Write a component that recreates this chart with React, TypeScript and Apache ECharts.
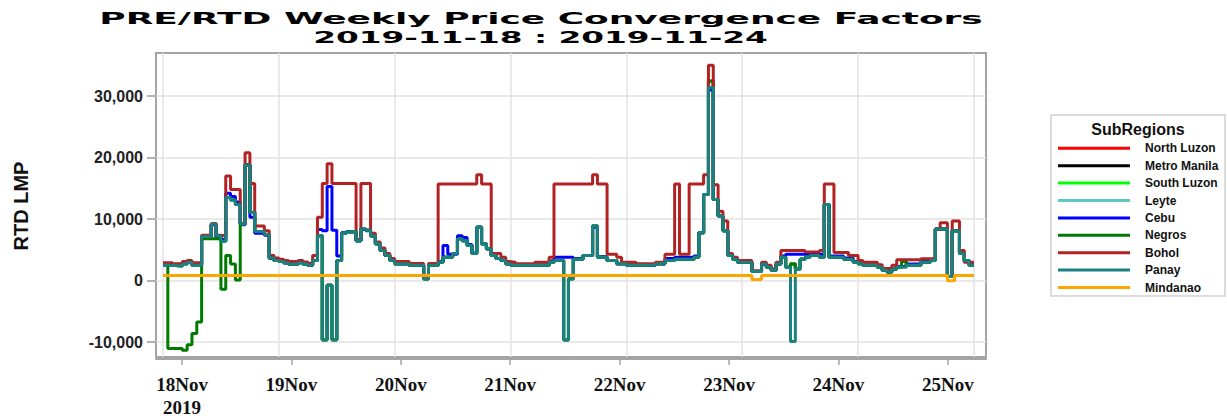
import React, { useEffect, useRef } from 'react';
import * as echarts from 'echarts';

// ---- labels / categories ----
const titleLine1 = 'PRE/RTD Weekly Price Convergence Factors';
const titleLine2 = '2019-11-18 : 2019-11-24';
const yAxisTitle = 'RTD LMP';
const legendTitle = 'SubRegions';
const seriesNames = ['North Luzon', 'Metro Manila', 'South Luzon', 'Leyte', 'Cebu', 'Negros', 'Bohol', 'Panay', 'Mindanao'];
const seriesColors = ['#ff0000', '#000000', '#00ff00', '#5cc8c8', '#0000ff', '#007a00', '#b22222', '#1b8080', '#ffa500'];
const dayTicks = [18, 19, 20, 21, 22, 23, 24, 25];
const yTicks = [-10000, 0, 10000, 20000, 30000];
const gridHours = [0, 24, 48, 72, 96, 120, 144, 168];

// ---- series values: [hour since 18 Nov 00:00, LMP] step change points ----
const panayLmp = [
  [0, 2500], [2, 2400], [4, 2700], [5, 2950], [6, 2500], [8, 7200], [10, 9200], [11, 7300], [12, 6400],
  [13, 13500], [14, 13100], [15, 12400], [16, 9200], [17, 18800], [18, 11100], [19, 8000], [21, 7500],
  [22, 3700], [23, 3300], [24, 3100], [25, 2900], [26, 2700], [28, 2900], [29, 2700], [30, 2500], [31, 3300],
  [32, 7300], [33, -9600], [34, -750], [35, -9600], [36, 3300], [37, 7700], [38, 7900], [39, 8000], [40, 6500],
  [41, 8400], [42, 8200], [43, 7300], [44, 6000], [45, 4900], [46, 4100], [47, 3300], [48, 2750], [51, 2500],
  [54, 300], [55, 2500], [57, 3000], [58, 3800], [60, 4400], [61, 6800], [62, 6500], [63, 5700], [64, 4400],
  [65, 8700], [66, 6000], [67, 5200], [68, 4100], [69, 3600], [70, 3300], [71, 2750], [72, 2500], [80, 3000],
  [81, 3300], [83, -9600], [84, 300], [85, 3500], [87, 4100], [89, 8900], [90, 3800], [92, 3300], [94, 2750],
  [96, 2500], [102, 2750], [104, 3300], [106, 3500], [110, 3800], [111, 7800], [112, 14000], [113, 31400],
  [114, 13200], [115, 10500], [116, 8100], [117, 4100], [118, 3500], [119, 3000], [122, 1500], [124, 2700],
  [125, 2200], [126, 1700], [127, 2700], [128, 3800], [129, 2200], [130, -9900], [131, 1900], [132, 3500],
  [133, 3800], [134, 4100], [136, 3800], [137, 12400], [138, 3800], [141, 3500], [143, 3000], [144, 2750],
  [145, 2500], [148, 2200], [149, 1700], [150, 1400], [151, 1900], [152, 2200], [154, 2500], [157, 3000],
  [159, 3300], [160, 8400], [162.5, 700], [163.5, 8100], [165, 4400], [166, 3300], [167, 2500], [168, 2500],
];

const luzonLmp = [
  [0, 2500], [2, 2400], [4, 2700], [5, 2950], [6, 2500], [8, 6900], [10, 9200], [11, 7000], [12, 6400],
  [13, 13500], [14, 13100], [15, 12400], [16, 9200], [17, 18800], [18, 11100], [19, 8000], [21, 7500],
  [22, 3700], [23, 3300], [24, 3100], [25, 2900], [26, 2700], [28, 2900], [29, 2700], [30, 2500], [31, 3300],
  [32, 7300], [33, -9600], [34, -750], [35, -9600], [36, 3300], [37, 7700], [38, 7900], [39, 8000], [40, 6500],
  [41, 8400], [42, 8200], [43, 7300], [44, 6000], [45, 4900], [46, 4100], [47, 3300], [48, 2750], [51, 2500],
  [54, 300], [55, 2500], [57, 3000], [58, 3800], [60, 4400], [61, 6800], [62, 6500], [63, 5700], [64, 4400],
  [65, 8700], [66, 6000], [67, 5200], [68, 4100], [69, 3600], [70, 3300], [71, 2750], [72, 2500], [80, 3000],
  [81, 3300], [83, -9600], [84, 300], [85, 3500], [87, 4100], [89, 8900], [90, 3800], [92, 3300], [94, 2750],
  [96, 2500], [102, 2750], [104, 3300], [106, 3500], [110, 3800], [111, 7800], [112, 14000], [113, 32400],
  [114, 13200], [115, 10500], [116, 8100], [117, 4100], [118, 3500], [119, 3000], [122, 1500], [124, 2700],
  [125, 2200], [126, 1700], [127, 2700], [128, 3800], [129, 2200], [130, 2700], [131, 1900], [132, 3500],
  [133, 3800], [134, 4100], [136, 3800], [137, 12400], [138, 3800], [141, 3500], [143, 3000], [144, 2750],
  [145, 2500], [148, 2200], [149, 1700], [150, 1400], [151, 1900], [152, 2200], [153, 3100], [154, 2500], [157, 3000],
  [159, 3300], [160, 8400], [162.5, 700], [163.5, 8100], [165, 4400], [166, 3300], [167, 2500], [168, 2500],
];

const cebuLmp = [
  [0, 2600], [2, 2500], [4, 2800], [5, 3050], [6, 2600], [8, 7200], [10, 9100], [11, 7200], [12, 6700],
  [13, 14200], [14, 13700], [15, 12800], [16, 9100], [17, 18900], [18, 10300], [19, 7700], [21, 7400],
  [22, 3600], [23, 3300], [24, 3100], [25, 2900], [26, 2700], [28, 3000], [29, 2750], [30, 2500], [31, 3300],
  [32, 8300], [33, 8100], [34, 15300], [35, 8200], [36, 4000], [37, 7800], [38, 8000], [40, 6500], [41, 8300],
  [42, 8100], [43, 7300], [44, 6000], [45, 4900], [46, 4100], [47, 3300], [48, 2750], [51, 2500], [54, 300],
  [55, 2500], [57, 3100], [58, 5700], [59, 4300], [61, 7300], [62, 7000], [63, 5900], [64, 4500], [65, 8700],
  [66, 6000], [67, 5200], [68, 4100], [69, 3600], [70, 3300], [71, 2750], [72, 2500], [80, 3200], [81, 3800],
  [85, 3600], [87, 4100], [89, 8700], [90, 3900], [92, 3300], [94, 2750], [96, 2500], [102, 2750], [104, 3600],
  [106, 3800], [110, 4000], [111, 7800], [112, 14000], [113, 31000], [114, 13200], [115, 10500], [116, 8100],
  [117, 4100], [118, 3500], [119, 3000], [122, 1500], [124, 2700], [125, 2200], [126, 1700], [127, 2700],
  [128, 4000], [129, 4300], [136, 4300], [137, 12400], [138, 4000], [141, 3700], [143, 3100], [144, 2800],
  [145, 2500], [148, 2200], [149, 1700], [150, 1400], [151, 1900], [152, 2300], [154, 2700], [157, 3100],
  [159, 3400], [160, 8400], [162.5, 700], [163.5, 8100], [165, 4500], [166, 3300], [167, 2600], [168, 2600],
];

const boholLmp = [
  [0, 2900], [2, 2750], [4, 3100], [5, 3300], [6, 2900], [8, 7400], [10, 9300], [11, 7400], [12, 7300],
  [13, 17000], [14, 14800], [16, 9300], [17, 20800], [18, 15800], [19, 8900], [21, 8100], [22, 4100],
  [23, 3700], [24, 3500], [25, 3300], [26, 3100], [28, 3300], [29, 3050], [30, 2850], [31, 4100], [32, 10300],
  [33, 15800], [34, 19000], [35, 15800], [40, 6700], [41, 15800], [43, 7700], [44, 6300], [45, 5300],
  [46, 4400], [47, 3600], [48, 3100], [51, 2800], [54, 500], [55, 2800], [57, 15700], [65, 17200], [66, 15700],
  [68, 4400], [70, 3800], [71, 3100], [72, 3000], [73, 2750], [77, 3000], [80, 3800], [81, 15700], [89, 17200],
  [90, 15700], [92, 4300], [94, 3800], [95, 3000], [98, 2750], [102, 3000], [104, 4300], [106, 15700],
  [107, 4300], [109, 15700], [112, 17200], [113, 35000], [114, 15600], [115, 11300], [116, 9700], [117, 4400],
  [118, 3800], [119, 3300], [122, 1600], [124, 3000], [125, 2500], [126, 1900], [127, 3000], [128, 4900],
  [133, 4650], [136, 4900], [137, 15700], [139, 4600], [142, 4100], [144, 3300], [145, 3000], [148, 2600],
  [149, 2000], [151, 2500], [152, 3400], [157, 3550], [160, 8400], [161, 9400], [162.5, 700], [163.5, 9700],
  [165, 4900], [166, 3000], [168, 3000],
];

const negrosEarlyLmp = [
  [0, 2600], [1, -11000], [4, -11300], [5, -10400], [6, -8600], [7, -6700], [8, 6800], [12, -1400],
  [13, 4100], [14, 2700], [15, 100], [16, 9200],
];

const mindanaoLmp = [[0, 850], [122, 200], [124, 850], [162.5, 0], [164, 850], [168, 850]];

function measureWidth(text: string, font: string): number {
  const ctx = document.createElement('canvas').getContext('2d');
  if (!ctx) return text.length * 10;
  ctx.font = font;
  return ctx.measureText(text).width;
}

function buildOption() {
  const negrosLmp = negrosEarlyLmp.concat(luzonLmp.filter((p) => p[0] >= 17));
  const dataByName: Record<string, number[][]> = {
    'North Luzon': luzonLmp,
    'Metro Manila': luzonLmp,
    'South Luzon': luzonLmp,
    Leyte: luzonLmp,
    Cebu: cebuLmp,
    Negros: negrosLmp,
    Bohol: boholLmp,
    Panay: panayLmp,
    Mindanao: mindanaoLmp,
  };

  const titleFont = 'bold 16px "DejaVu Sans"';
  const s1 = 884 / measureWidth(titleLine1, titleFont);
  const s2 = 455 / measureWidth(titleLine2, titleFont);

  const series: any[] = seriesNames.map((name, i) => {
    const s: any = {
      name,
      type: 'line',
      step: 'end',
      xAxisIndex: 0,
      yAxisIndex: 0,
      data: dataByName[name],
      showSymbol: false,
      symbol: 'none',
      color: seriesColors[i],
      itemStyle: { color: seriesColors[i] },
      lineStyle: { width: 3, color: seriesColors[i] },
      emphasis: { disabled: true },
      z: 2,
    };
    if (i === 0) {
      s.markLine = {
        silent: true,
        z: 1,
        symbol: ['none', 'none'],
        label: { show: false },
        emphasis: { disabled: true },
        lineStyle: { color: '#e2e2e2', width: 1.5, type: 'solid' },
        data: [
          ...gridHours.map((h) => ({ xAxis: h })),
          ...yTicks.map((v) => ({ yAxis: v })),
        ],
      };
    }
    return s;
  });

  return {
    animation: false,
    backgroundColor: '#ffffff',
    grid: {
      left: 156,
      top: 53,
      width: 830,
      height: 306,
      show: true,
      borderColor: '#a4a4a4',
      borderWidth: 2,
      backgroundColor: 'transparent',
      containLabel: false,
    },
    xAxis: [
      {
        type: 'value',
        min: -1.45,
        max: 170.5,
        position: 'top',
        show: false,
      },
      {
        type: 'value',
        min: 17.762,
        max: 25.349,
        position: 'bottom',
        offset: 2,
        axisLine: { show: true, onZero: false, lineStyle: { color: '#a4a4a4', width: 2 } },
        axisTick: { show: true, customValues: dayTicks, length: 6, lineStyle: { color: '#a4a4a4', width: 1.5 } },
        splitLine: { show: false },
        axisLabel: {
          customValues: dayTicks,
          margin: 14,
          fontFamily: 'Liberation Serif',
          fontWeight: 'bold',
          fontSize: 19,
          lineHeight: 23,
          color: '#111',
          formatter: (v: number) => (v === 18 ? '18Nov\n2019' : `${v}Nov`),
        },
      },
    ],
    yAxis: {
      type: 'value',
      min: -12400,
      max: 37000,
      axisLine: { show: false, onZero: false },
      splitLine: { show: false },
      axisTick: { show: true, customValues: yTicks, length: 9, lineStyle: { color: '#9a9a9a', width: 1.5 } },
      axisLabel: {
        customValues: yTicks,
        margin: 13,
        fontFamily: 'Liberation Sans',
        fontWeight: 'bold',
        fontSize: 16,
        color: '#222',
        formatter: (v: number) => v.toLocaleString('en-US'),
      },
    },
    legend: {
      orient: 'vertical',
      left: 1058,
      top: 139.6,
      padding: 0,
      itemGap: 0,
      itemWidth: 72,
      itemHeight: 3,
      icon: 'rect',
      selectedMode: false,
      data: seriesNames,
      textStyle: {
        fontFamily: 'Liberation Sans',
        fontWeight: 'bold',
        fontSize: 12,
        color: '#111',
        lineHeight: 17.4,
        padding: [0, 0, 0, 10],
      },
    },
    graphic: [
      {
        type: 'rect',
        z: -1,
        shape: { x: 1051, y: 115, width: 174, height: 181 },
        style: { fill: '#ffffff', stroke: '#cfcfcf', lineWidth: 1.5 },
      },
      {
        type: 'text',
        x: 1138,
        y: 129,
        style: {
          text: legendTitle,
          fontFamily: 'Liberation Sans',
          fontWeight: 'bold',
          fontSize: 16,
          fill: '#111',
          align: 'center',
          verticalAlign: 'middle',
          textAlign: 'center',
          textVerticalAlign: 'middle',
        },
      },
      {
        type: 'text',
        x: 541,
        y: 18.5,
        scaleX: s1,
        style: {
          text: titleLine1,
          fontFamily: 'DejaVu Sans',
          fontWeight: 'bold',
          fontSize: 16,
          fill: '#000',
          align: 'center',
          verticalAlign: 'middle',
          textAlign: 'center',
          textVerticalAlign: 'middle',
        },
      },
      {
        type: 'text',
        x: 540.5,
        y: 37.5,
        scaleX: s2,
        style: {
          text: titleLine2,
          fontFamily: 'DejaVu Sans',
          fontWeight: 'bold',
          fontSize: 16,
          fill: '#000',
          align: 'center',
          verticalAlign: 'middle',
          textAlign: 'center',
          textVerticalAlign: 'middle',
        },
      },
      {
        type: 'text',
        x: 21,
        y: 206,
        rotation: Math.PI / 2,
        style: {
          text: yAxisTitle,
          fontFamily: 'Liberation Sans',
          fontWeight: 'bold',
          fontSize: 20,
          fill: '#111',
          align: 'center',
          verticalAlign: 'middle',
          textAlign: 'center',
          textVerticalAlign: 'middle',
        },
      },
    ],
    series,
  };
}

export default function App() {
  const ref = useRef<HTMLDivElement>(null);
  useEffect(() => {
    if (!ref.current) return;
    const chart = echarts.init(ref.current, null, { renderer: 'svg' });
    chart.setOption(buildOption() as any);
    return () => chart.dispose();
  }, []);
  return (
    <div
      ref={ref}
      style={{ position: 'fixed', left: 0, top: 0, width: 1227, height: 419, background: '#ffffff' }}
    />
  );
}
